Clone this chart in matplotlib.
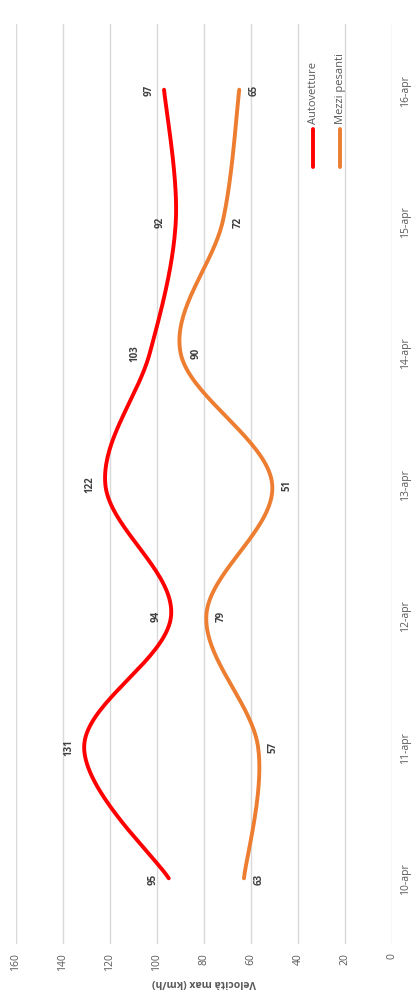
import numpy as np
import matplotlib.pyplot as plt

# Data
days = ["10-apr", "11-apr", "12-apr", "13-apr", "14-apr", "15-apr", "16-apr"]
autovetture = [95, 131, 94, 122, 103, 92, 97]
mezzi_pesanti = [63, 57, 79, 51, 90, 72, 65]

plt.rcParams['font.family'] = ['Open Sans', 'DejaVu Sans']

# pixel scale used for excel-like smoothing (category step vs value unit)
SX, SY = 131.4, 2.35


def smooth(vals, n=40):
    # Excel-style bezier smoothing, computed in screen-like units
    p = np.array([[i * SX, v * SY] for i, v in enumerate(vals)], dtype=float)
    xs, ys = [], []
    for i in range(len(p) - 1):
        p0 = p[i - 1] if i > 0 else p[i]
        p3 = p[i + 2] if i + 2 < len(p) else p[i + 1]
        c1 = p[i] + (p[i + 1] - p0) / 6
        c2 = p[i + 1] - (p3 - p[i]) / 6
        t = np.linspace(0, 1, n)[:, None]
        b = ((1 - t) ** 3) * p[i] + 3 * ((1 - t) ** 2) * t * c1 + 3 * (1 - t) * t ** 2 * c2 + t ** 3 * p[i + 1]
        xs.append(b[:, 0])
        ys.append(b[:, 1])
    return np.concatenate(xs) / SX, np.concatenate(ys) / SY


fig = plt.figure(figsize=(4.16, 10.04), dpi=100)
ax = fig.add_axes([16 / 416, 1 - 945 / 1004, 376 / 416, 920 / 1004])

series = [(autovetture, "#FF0000", "Autovetture", -1),
          (mezzi_pesanti, "#ED7D31", "Mezzi pesanti", 1)]

for vals, col, name, side in series:
    cy, cv = smooth(vals)
    ax.plot(cv, cy, color=col, lw=2.8, solid_capstyle='round', zorder=3)
    for i, v in enumerate(vals):
        ax.annotate(str(v), (v, i), xytext=(side * 11, 0), textcoords='offset points',
                    rotation=90, ha='center', va='center', fontsize=7,
                    fontweight='bold', color='#404040')

ax.set_xlim(160, 0)
ax.set_ylim(-0.5, len(days) - 0.5)
ax.set_xticks(range(0, 161, 20))
ax.set_xticklabels([str(v) for v in range(0, 161, 20)], rotation=90, fontsize=7.5, color='#595959')
ax.set_yticks(range(len(days)))
ax.set_yticklabels(days, rotation=90, fontsize=7.5, color='#595959', va='center')
ax.yaxis.tick_right()
ax.tick_params(length=0, pad=6)
ax.grid(axis='x', color='#D9D9D9', lw=1)
ax.set_axisbelow(True)
for s in ax.spines.values():
    s.set_visible(False)

ax.set_xlabel("Velocità max (km/h)", rotation=180, fontsize=7.5, fontweight='bold',
              color='#595959', labelpad=4)

# legend drawn by hand, rotated with the chart
for k, (vals, col, name, side) in enumerate(series):
    lx = (313 + 27 * k - 16) / 376
    ax.plot([lx, lx], [0.845, 0.886], color=col, lw=2.8, solid_capstyle='round',
            transform=ax.transAxes, clip_on=False)
    ax.text(lx, 0.892, name, rotation=90, ha='center', va='bottom', fontsize=8,
            color='#595959', transform=ax.transAxes)

fig.savefig("out.png", dpi=100)
